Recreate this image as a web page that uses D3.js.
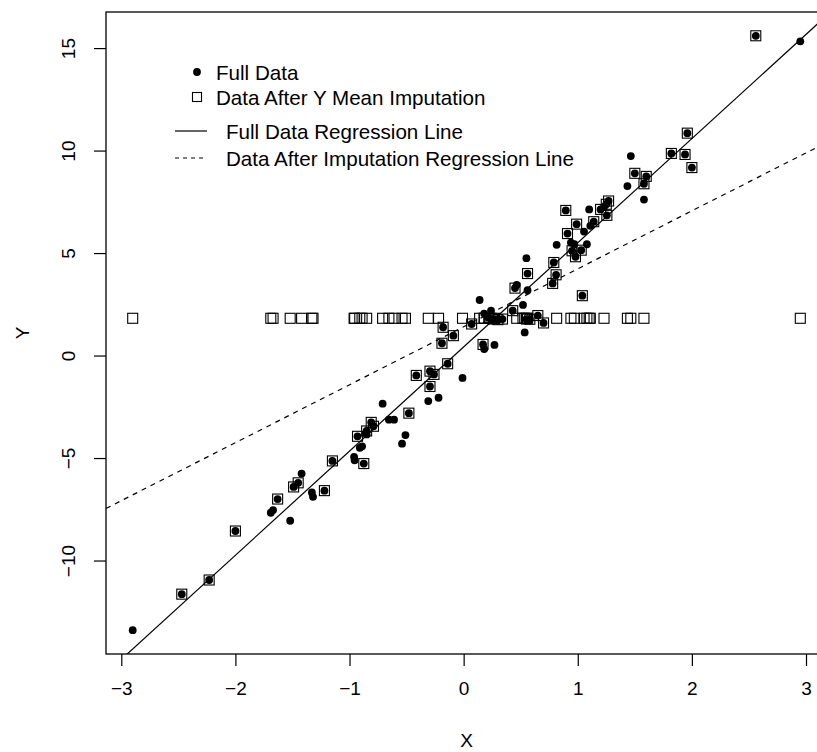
<!DOCTYPE html>
<html>
<head>
<meta charset="utf-8">
<script src="https://cdn.jsdelivr.net/npm/d3@7"></script>
<style>
  body { margin: 0; background: #fff; }
  text { font-family: "Liberation Sans", Arial, Helvetica, sans-serif; fill: #000; }
</style>
</head>
<body>
<svg id="chart" width="817" height="752"></svg>
<script>
// Simulated sample: X and the complete Y
const xs = [
  -2.90, -2.47, -2.23, -2.00, -1.69, -1.67, -1.63, -1.52, -1.49, -1.45,
  -1.42, -1.33, -1.32, -1.22, -1.15, -0.96, -0.955, -0.91, -0.89, -0.875,
  -0.93, -0.85, -0.85, -0.81, -0.79, -0.71, -0.655, -0.61, -0.54, -0.51,
  -0.48, -0.415, -0.31, -0.22, -0.295, -0.26, -0.295, -0.14, -0.01, -0.18,
  -0.09, -0.19, 0.07, 0.14, 0.18, 0.24, 0.17, 0.18, 0.27, 0.22,
  0.26, 0.30, 0.34, 0.43, 0.45, 0.465, 0.52, 0.535, 0.55, 0.56,
  0.56, 0.55, 0.58, 0.65, 0.70, 0.78, 0.81, 0.79, 0.815, 0.895,
  0.91, 0.94, 0.97, 0.95, 1.03, 0.98, 0.99, 1.04, 1.055, 1.08,
  1.10, 1.11, 1.14, 1.20, 1.25, 1.27, 1.255, 1.23, 1.435, 1.465,
  1.50, 1.58, 1.58, 1.60, 1.82, 1.94, 1.96, 2.00, 2.56, 2.95
];
const yFull = [
  -13.40, -11.64, -10.95, -8.56, -7.67, -7.54, -7.00, -8.06, -6.41, -6.21,
  -5.76, -6.68, -6.89, -6.59, -5.14, -4.95, -5.11, -4.50, -4.43, -5.27,
  -3.94, -3.68, -3.85, -3.26, -3.45, -2.35, -3.13, -3.13, -4.30, -3.88,
  -2.81, -0.97, -2.22, -2.06, -0.76, -0.92, -1.51, -0.40, -1.09, 1.38,
  0.97, 0.60, 1.54, 2.71, 2.05, 2.19, 0.54, 0.32, 0.52, 1.85,
  1.78, 1.75, 1.78, 2.19, 3.29, 3.45, 2.47, 1.13, 4.75, 3.19,
  4.00, 1.78, 1.77, 1.95, 1.59, 3.52, 3.94, 4.54, 5.40, 7.08,
  5.95, 5.51, 5.43, 5.11, 5.14, 4.82, 6.41, 2.92, 6.05, 5.43,
  7.13, 6.33, 6.53, 7.13, 7.38, 7.54, 6.84, 7.25, 8.27, 9.73,
  8.89, 7.61, 8.38, 8.74, 9.86, 9.81, 10.85, 9.17, 15.60, 15.33
];
// 1 = Y observed, 0 = Y missing (replaced by the observed mean)
const observed = [
  0, 1, 1, 1, 0, 0, 1, 0, 1, 1,
  0, 0, 0, 1, 1, 0, 0, 0, 0, 1,
  1, 1, 0, 1, 1, 0, 0, 0, 0, 0,
  1, 1, 0, 0, 1, 1, 1, 1, 0, 1,
  1, 1, 1, 0, 0, 0, 1, 0, 0, 1,
  1, 1, 1, 1, 1, 0, 0, 0, 0, 0,
  1, 1, 1, 1, 1, 1, 1, 1, 0, 1,
  1, 0, 0, 1, 1, 1, 1, 1, 0, 0,
  0, 0, 1, 1, 1, 1, 1, 0, 0, 0,
  1, 0, 1, 1, 1, 1, 1, 1, 1, 0
];

const xTicks = [-3, -2, -1, 0, 1, 2, 3];
const yTicks = [-10, -5, 0, 5, 10, 15];
const legendPointLabels = ["Full Data", "Data After Y Mean Imputation"];
const legendLineLabels = ["Full Data Regression Line", "Data After Imputation Regression Line"];

// Mean imputation
const obsMean = d3.mean(yFull.filter((v, i) => observed[i] === 1));
const yImputed = yFull.map((v, i) => observed[i] === 1 ? v : obsMean);

// Ordinary least squares fit
function fit(xv, yv) {
  const mx = d3.mean(xv), my = d3.mean(yv);
  let sxy = 0, sxx = 0;
  for (let i = 0; i < xv.length; i++) {
    sxy += (xv[i] - mx) * (yv[i] - my);
    sxx += (xv[i] - mx) * (xv[i] - mx);
  }
  const b = sxy / sxx;
  return { a: my - b * mx, b };
}
const fitFull = fit(xs, yFull);
const fitImp = fit(xs, yImputed);

const svg = d3.select("#chart");
const plot = { left: 106, right: 827, top: 12, bottom: 654 };

// R-style axis ranges: data range widened by 4% on each side
function pad(ext) { const r = ext[1] - ext[0]; return [ext[0] - 0.04 * r, ext[1] + 0.04 * r]; }
const x = d3.scaleLinear().domain(pad(d3.extent(xs))).range([plot.left, plot.right]);
const y = d3.scaleLinear().domain(pad(d3.extent(yFull))).range([plot.bottom, plot.top]);

const fmt = d => (d < 0 ? "\u2212" + Math.abs(d) : String(d));
const FS = 19;      // axis text
const LFS = 20.6;   // legend text

svg.append("defs").append("clipPath").attr("id", "plotClip")
  .append("rect")
  .attr("x", plot.left).attr("y", plot.top)
  .attr("width", plot.right - plot.left).attr("height", plot.bottom - plot.top);

// Axes
const xAxis = svg.append("g")
  .attr("transform", `translate(0,${plot.bottom})`)
  .call(d3.axisBottom(x).tickValues(xTicks).tickFormat(fmt).tickSize(12).tickSizeOuter(0));
xAxis.select(".domain").remove();
xAxis.selectAll(".tick line").attr("stroke", "#000").attr("stroke-width", 1.2);
xAxis.selectAll(".tick text")
  .attr("y", 34).attr("dy", null)
  .attr("dominant-baseline", "central")
  .style("font-size", FS + "px")
  .style("font-family", '"Liberation Sans", Arial, sans-serif');

const yAxis = svg.append("g")
  .attr("transform", `translate(${plot.left},0)`)
  .call(d3.axisLeft(y).tickValues(yTicks).tickFormat(fmt).tickSize(12).tickSizeOuter(0));
yAxis.select(".domain").remove();
yAxis.selectAll(".tick line").attr("stroke", "#000").attr("stroke-width", 1.2);
yAxis.selectAll(".tick text")
  .attr("x", null).attr("dy", null)
  .attr("text-anchor", "middle")
  .attr("dominant-baseline", "central")
  .attr("transform", "translate(-38,0) rotate(-90)")
  .style("font-size", FS + "px")
  .style("font-family", '"Liberation Sans", Arial, sans-serif');

// Axis titles
svg.append("text")
  .attr("x", (plot.left + plot.right) / 2).attr("y", 740)
  .attr("text-anchor", "middle").attr("dominant-baseline", "central")
  .style("font-size", FS + "px").text("X");
svg.append("text")
  .attr("transform", `translate(22,${(plot.top + plot.bottom) / 2}) rotate(-90)`)
  .attr("text-anchor", "middle").attr("dominant-baseline", "central")
  .style("font-size", FS + "px").text("Y");

// Plot contents
const g = svg.append("g").attr("clip-path", "url(#plotClip)");
const [x0, x1] = x.domain();

g.append("line")
  .attr("x1", x(x0)).attr("y1", y(fitFull.a + fitFull.b * x0))
  .attr("x2", x(x1)).attr("y2", y(fitFull.a + fitFull.b * x1))
  .attr("stroke", "#000").attr("stroke-width", 1.2);
g.append("line")
  .attr("x1", x(x0)).attr("y1", y(fitImp.a + fitImp.b * x0))
  .attr("x2", x(x1)).attr("y2", y(fitImp.a + fitImp.b * x1))
  .attr("stroke", "#000").attr("stroke-width", 1.2)
  .attr("stroke-dasharray", "5,5");

g.selectAll("circle.full").data(xs).join("circle")
  .attr("class", "full")
  .attr("cx", d => x(d)).attr("cy", (d, i) => y(yFull[i]))
  .attr("r", 3.9).attr("fill", "#000");

const SQ = 10;
g.selectAll("rect.imp").data(xs).join("rect")
  .attr("class", "imp")
  .attr("x", d => x(d) - SQ / 2).attr("y", (d, i) => y(yImputed[i]) - SQ / 2)
  .attr("width", SQ).attr("height", SQ)
  .attr("fill", "none").attr("stroke", "#000").attr("stroke-width", 1.1);

// Frame
svg.append("rect")
  .attr("x", plot.left).attr("y", plot.top)
  .attr("width", plot.right - plot.left).attr("height", plot.bottom - plot.top)
  .attr("fill", "none").attr("stroke", "#000").attr("stroke-width", 1.3);

// Legends (no box)
const lp = svg.append("g");
const pRows = [72, 97];
lp.append("circle").attr("cx", 197).attr("cy", pRows[0]).attr("r", 3.9).attr("fill", "#000");
lp.append("rect").attr("x", 197 - 4.5).attr("y", pRows[1] - 4.5).attr("width", 9).attr("height", 9)
  .attr("fill", "none").attr("stroke", "#000").attr("stroke-width", 1.1);
legendPointLabels.forEach((t, i) => {
  lp.append("text").attr("x", 216).attr("y", pRows[i])
    .attr("dominant-baseline", "central").style("font-size", LFS + "px").text(t);
});
const lRows = [131, 158];
lp.append("line").attr("x1", 175).attr("x2", 207).attr("y1", lRows[0]).attr("y2", lRows[0])
  .attr("stroke", "#000").attr("stroke-width", 1.2);
lp.append("line").attr("x1", 175).attr("x2", 207).attr("y1", lRows[1]).attr("y2", lRows[1])
  .attr("stroke", "#000").attr("stroke-width", 1.2).attr("stroke-dasharray", "4,4");
legendLineLabels.forEach((t, i) => {
  lp.append("text").attr("x", 226).attr("y", lRows[i])
    .attr("dominant-baseline", "central").style("font-size", LFS + "px").text(t);
});
</script>
</body>
</html>
